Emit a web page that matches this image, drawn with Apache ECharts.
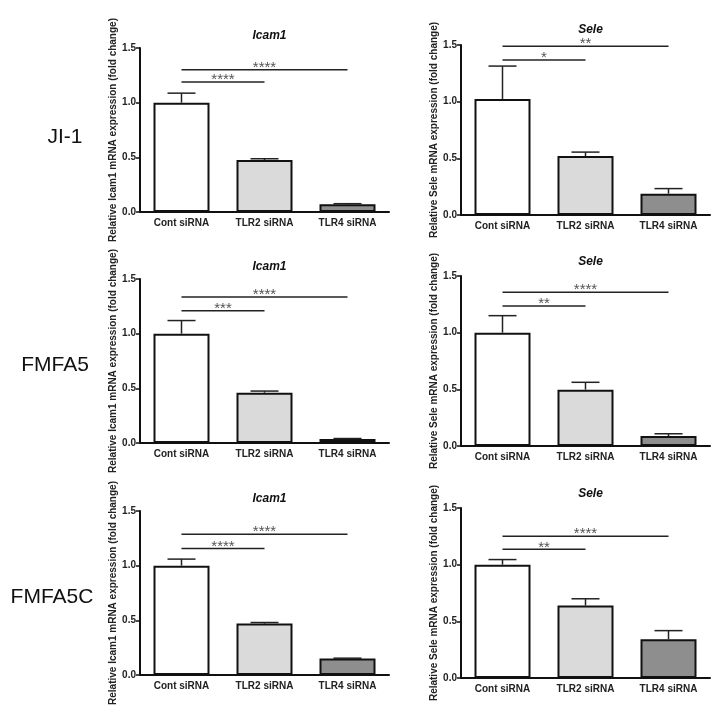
<!DOCTYPE html>
<html>
<head>
<meta charset="utf-8">
<title>Icam1 / Sele expression</title>
<script src="https://cdn.jsdelivr.net/npm/echarts@6/dist/echarts.min.js"></script>
<style>
  html, body { margin: 0; padding: 0; background: #fff; }
  #chart { width: 728px; height: 721px; }
</style>
</head>
<body>
<div id="chart"></div>
<script>
// categories
const categories = ['Cont siRNA', 'TLR2 siRNA', 'TLR4 siRNA']
const cellLines = ['JI-1', 'FMFA5', 'FMFA5C']
const yTicks = [0, 0.5, 1.0, 1.5]

// means and SEM (upper bar only)
const icamJI1 = [1.0, 0.475, 0.07]
const icamJI1Err = [0.087, 0.012, 0.006]
const seleJI1 = [1.024, 0.52, 0.188]
const seleJI1Err = [0.29, 0.035, 0.045]
const icamFMFA5 = [1.0, 0.46, 0.037]
const icamFMFA5Err = [0.12, 0.015, 0.004]
const seleFMFA5 = [1.0, 0.497, 0.088]
const seleFMFA5Err = [0.15, 0.065, 0.02]
const icamFMFA5C = [1.0, 0.47, 0.151]
const icamFMFA5CErr = [0.06, 0.01, 0.003]
const seleFMFA5C = [1.0, 0.639, 0.342]
const seleFMFA5CErr = [0.045, 0.06, 0.076]

// significance brackets: [from, to, height]
const icamJI1Sig = [[0, 1, 1.19], [0, 2, 1.30]]
const icamJI1Stars = ['****', '****']
const seleJI1Sig = [[0, 1, 1.368], [0, 2, 1.49]]
const seleJI1Stars = ['*', '**']
const icamFMFA5Sig = [[0, 1, 1.21], [0, 2, 1.335]]
const icamFMFA5Stars = ['***', '****']
const seleFMFA5Sig = [[0, 1, 1.235], [0, 2, 1.356]]
const seleFMFA5Stars = ['**', '****']
const icamFMFA5CSig = [[0, 1, 1.158], [0, 2, 1.288]]
const icamFMFA5CStars = ['****', '****']
const seleFMFA5CSig = [[0, 1, 1.135], [0, 2, 1.25]]
const seleFMFA5CStars = ['**', '****']

const FONT = '"Liberation Sans", Arial, sans-serif'
const barColors = ['#ffffff', '#dadada', '#8e8e8e']

const panels = [
  { gene: 'Icam1', mean: icamJI1, err: icamJI1Err, sig: icamJI1Sig, stars: icamJI1Stars },
  { gene: 'Sele', mean: seleJI1, err: seleJI1Err, sig: seleJI1Sig, stars: seleJI1Stars },
  { gene: 'Icam1', mean: icamFMFA5, err: icamFMFA5Err, sig: icamFMFA5Sig, stars: icamFMFA5Stars },
  { gene: 'Sele', mean: seleFMFA5, err: seleFMFA5Err, sig: seleFMFA5Sig, stars: seleFMFA5Stars },
  { gene: 'Icam1', mean: icamFMFA5C, err: icamFMFA5CErr, sig: icamFMFA5CSig, stars: icamFMFA5CStars },
  { gene: 'Sele', mean: seleFMFA5C, err: seleFMFA5CErr, sig: seleFMFA5CSig, stars: seleFMFA5CStars }
]

// grid boxes (left column / right column)
const gridBoxes = [
  { left: 140, top: 48, height: 164 },
  { left: 461, top: 45, height: 170 },
  { left: 140, top: 279, height: 164 },
  { left: 461, top: 276, height: 170 },
  { left: 140, top: 511, height: 164 },
  { left: 461, top: 508, height: 170 }
]
const titleTops = [25, 19, 256, 251, 488, 483]
const rowLabelPos = [[65, 137], [55, 365], [52, 597]]

const grids = []
const xAxes = []
const yAxes = []
const titles = []
const series = []

panels.forEach((p, i) => {
  const box = gridBoxes[i]
  grids.push({ left: box.left, top: box.top, width: 249, height: box.height })

  xAxes.push({
    type: 'category',
    gridIndex: i,
    data: categories,
    axisLine: { lineStyle: { color: '#111', width: 2 } },
    axisTick: { alignWithLabel: true, length: 3, lineStyle: { color: '#111', width: 1.5 } },
    axisLabel: { color: '#222', fontSize: 10, fontWeight: 'bold', fontFamily: FONT, margin: 6 }
  })

  yAxes.push({
    type: 'value',
    gridIndex: i,
    min: yTicks[0],
    max: yTicks[yTicks.length - 1],
    interval: 0.5,
    name: 'Relative ' + p.gene + ' mRNA expression (fold change)',
    nameLocation: 'middle',
    nameRotate: 90,
    nameGap: 22,
    nameTextStyle: { color: '#222', fontSize: 10, fontWeight: 'bold', fontFamily: FONT },
    axisLine: { show: true, lineStyle: { color: '#111', width: 2 } },
    axisTick: { show: true, length: 4, lineStyle: { color: '#111', width: 1.5 } },
    axisLabel: {
      color: '#222', fontSize: 10, fontWeight: 'bold', fontFamily: FONT, margin: 4,
      formatter: v => v.toFixed(1)
    },
    splitLine: { show: false }
  })

  titles.push({
    text: p.gene,
    left: box.left + 124.5,
    top: titleTops[i],
    textAlign: 'center',
    textStyle: { fontSize: 12, fontStyle: 'italic', fontWeight: 'bold', color: '#111', fontFamily: FONT }
  })

  // bars
  series.push({
    type: 'bar',
    xAxisIndex: i,
    yAxisIndex: i,
    barWidth: 56,
    data: p.mean.map((v, k) => ({
      value: v,
      itemStyle: { color: barColors[k], borderColor: '#111', borderWidth: 2 }
    })),
    z: 2
  })

  // error bars (upper only)
  series.push({
    type: 'custom',
    xAxisIndex: i,
    yAxisIndex: i,
    data: p.mean.map((v, k) => [k, v, p.err[k]]),
    encode: { x: 0, y: 1 },
    z: 3,
    renderItem: (params, api) => {
      const k = api.value(0)
      const m = api.value(1)
      const e = api.value(2)
      const base = api.coord([k, m])
      const top = api.coord([k, m + e])
      const style = { stroke: '#222', lineWidth: 1.5 }
      return {
        type: 'group',
        children: [
          { type: 'line', shape: { x1: base[0], y1: base[1], x2: top[0], y2: top[1] }, style },
          { type: 'line', shape: { x1: top[0] - 14, y1: top[1], x2: top[0] + 14, y2: top[1] }, style }
        ]
      }
    }
  })

  // significance brackets
  series.push({
    type: 'custom',
    xAxisIndex: i,
    yAxisIndex: i,
    data: p.sig,
    encode: { x: [0, 1], y: 2 },
    z: 4,
    renderItem: (params, api) => {
      const a = api.coord([api.value(0), api.value(2)])
      const b = api.coord([api.value(1), api.value(2)])
      return {
        type: 'group',
        children: [
          { type: 'line', shape: { x1: a[0], y1: a[1], x2: b[0], y2: b[1] }, style: { stroke: '#222', lineWidth: 1.5 } },
          {
            type: 'text',
            style: {
              text: p.stars[params.dataIndex],
              x: (a[0] + b[0]) / 2,
              y: a[1] - 2,
              align: 'center',
              verticalAlign: 'middle',
              fontSize: 15,
              fontFamily: FONT,
              fill: '#555'
            }
          }
        ]
      }
    }
  })
})

const chart = echarts.init(document.getElementById('chart'))
chart.setOption({
  backgroundColor: '#ffffff',
  animation: false,
  title: titles,
  grid: grids,
  xAxis: xAxes,
  yAxis: yAxes,
  series: series,
  graphic: cellLines.map((name, r) => ({
    type: 'text',
    x: rowLabelPos[r][0],
    y: rowLabelPos[r][1],
    style: {
      text: name,
      align: 'center',
      verticalAlign: 'middle',
      fontSize: 21,
      fontFamily: FONT,
      fill: '#111'
    }
  }))
})
</script>
</body>
</html>
